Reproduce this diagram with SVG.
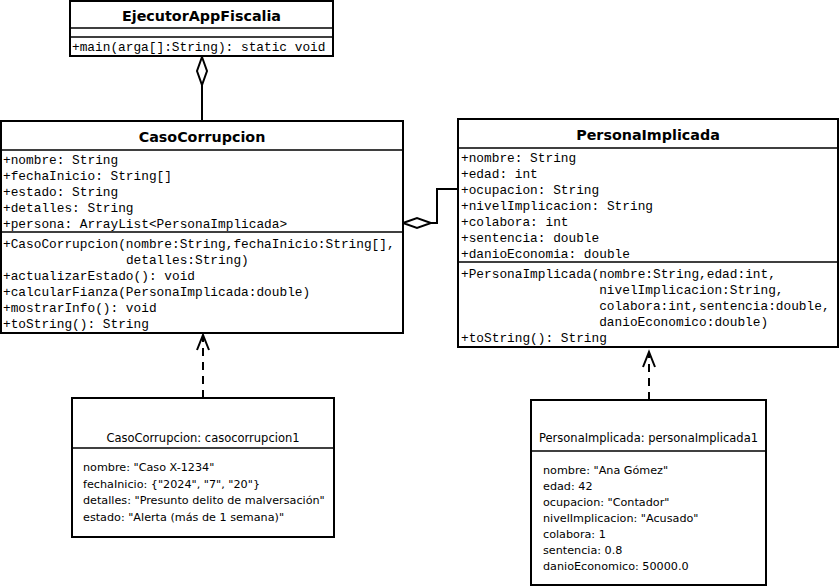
<svg xmlns="http://www.w3.org/2000/svg" width="840" height="587" viewBox="0 0 840 587">
<style>
.box{fill:#fff;stroke:#000;stroke-width:2}
.sep{stroke:#000;stroke-width:1.5;fill:none}
.title{font-family:"DejaVu Sans",Verdana,sans-serif;font-weight:bold;font-size:14.3px;text-anchor:middle}
.mono{font-family:"Liberation Mono","Courier New",monospace;font-size:12.8px}
.obj{font-family:"DejaVu Sans",Verdana,sans-serif;font-size:11.2px}
.objt{font-family:"DejaVu Sans",Verdana,sans-serif;font-size:11.5px;text-anchor:middle}
.line{stroke:#000;stroke-width:2;fill:none}
.dash{stroke:#000;stroke-width:2;fill:none;stroke-dasharray:8 6}
.dia{fill:#fff;stroke:#000;stroke-width:2}
</style>
<rect width="840" height="587" fill="#fff"/>
<g id="connectors">
  <path class="line" d="M202 85 V121"/>
  <path class="dia" d="M202 57 L207 71 L202 85 L197 71 Z"/>
  <path class="line" d="M458 189 H437 V223 H431"/>
  <path class="dia" d="M403 223 L417 218 L431 223 L417 228 Z"/>
  <path class="dash" d="M203 398 V337"/>
  <path class="line" d="M197 350 L203 335 L209 350"/>
  <path class="dash" d="M649 400 V353"/>
  <path class="line" d="M643 367 L649 352 L655 367"/>
</g>
<g id="EjecutorAppFiscalia">
  <rect class="box" x="70" y="1" width="263" height="55"/>
  <path class="sep" d="M70 28 H333 M70 37 H333"/>
  <text class="title" x="201.5" y="21">EjecutorAppFiscalia</text>
  <text class="mono" x="72" y="51">+main(arga[]:String): static void</text>
</g>
<g id="CasoCorrupcion">
  <rect class="box" x="1" y="121" width="402" height="212"/>
  <path class="sep" d="M1 150 H403 M1 232 H403"/>
  <text class="title" x="202" y="142">CasoCorrupcion</text>
  <text class="mono" x="3" y="164">+nombre: String</text>
  <text class="mono" x="3" y="180">+fechaInicio: String[]</text>
  <text class="mono" x="3" y="196">+estado: String</text>
  <text class="mono" x="3" y="212">+detalles: String</text>
  <text class="mono" x="3" y="228">+persona: ArrayList&lt;PersonaImplicada&gt;</text>
  <text class="mono" x="3" y="248">+CasoCorrupcion(nombre:String,fechaInicio:String[],</text>
  <text class="mono" x="125.9" y="264">detalles:String)</text>
  <text class="mono" x="3" y="280">+actualizarEstado(): void</text>
  <text class="mono" x="3" y="296">+calcularFianza(PersonaImplicada:double)</text>
  <text class="mono" x="3" y="312">+mostrarInfo(): void</text>
  <text class="mono" x="3" y="328">+toString(): String</text>
</g>
<g id="PersonaImplicada">
  <rect class="box" x="458" y="119" width="380" height="228"/>
  <path class="sep" d="M458 148 H838 M458 262 H838"/>
  <text class="title" x="648" y="140">PersonaImplicada</text>
  <text class="mono" x="461" y="162">+nombre: String</text>
  <text class="mono" x="461" y="178">+edad: int</text>
  <text class="mono" x="461" y="194">+ocupacion: String</text>
  <text class="mono" x="461" y="210">+nivelImplicacion: String</text>
  <text class="mono" x="461" y="226">+colabora: int</text>
  <text class="mono" x="461" y="242">+sentencia: double</text>
  <text class="mono" x="461" y="258">+danioEconomia: double</text>
  <text class="mono" x="461" y="278">+PersonaImplicada(nombre:String,edad:int,</text>
  <text class="mono" x="599.2" y="294">nivelImplicacion:String,</text>
  <text class="mono" x="599.2" y="310">colabora:int,sentencia:double,</text>
  <text class="mono" x="599.2" y="326">danioEconomico:double)</text>
  <text class="mono" x="461" y="342">+toString(): String</text>
</g>
<g id="casocorrupcion1">
  <rect class="box" x="72" y="398" width="262" height="139"/>
  <path class="sep" d="M72 448 H334"/>
  <text class="objt" x="203" y="442">CasoCorrupcion: casocorrupcion1</text>
  <text class="obj" x="83" y="471">nombre: "Caso X-1234"</text>
  <text class="obj" x="83" y="487.5">fechaInicio: {"2024", "7", "20"}</text>
  <text class="obj" x="83" y="504">detalles: "Presunto delito de malversación"</text>
  <text class="obj" x="83" y="520.5">estado: "Alerta (más de 1 semana)"</text>
</g>
<g id="personaImplicada1">
  <rect class="box" x="531" y="400" width="235" height="185"/>
  <path class="sep" d="M531 451 H766"/>
  <text class="objt" x="648.5" y="442">PersonaImplicada: personaImplicada1</text>
  <text class="obj" x="543" y="474">nombre: "Ana Gómez"</text>
  <text class="obj" x="543" y="490">edad: 42</text>
  <text class="obj" x="543" y="506">ocupacion: "Contador"</text>
  <text class="obj" x="543" y="522">nivelImplicacion: "Acusado"</text>
  <text class="obj" x="543" y="538">colabora: 1</text>
  <text class="obj" x="543" y="554">sentencia: 0.8</text>
  <text class="obj" x="543" y="570">danioEconomico: 50000.0</text>
</g>
</svg>
